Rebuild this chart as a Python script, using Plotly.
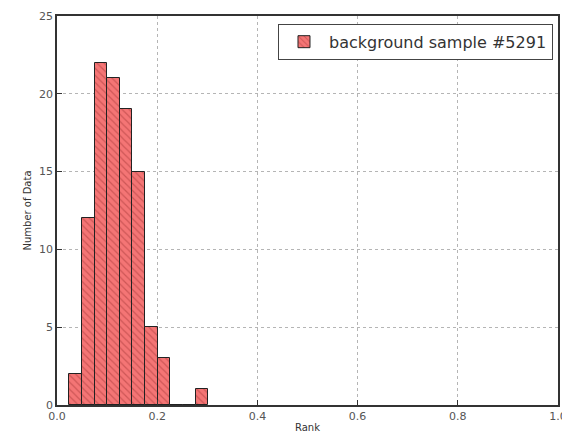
import plotly.graph_objects as go

# Histogram data
bin_start = 0.0245
bin_width = 0.0252
counts = [2, 12, 22, 21, 19, 15, 5, 3, 0, 0, 1]
series_name = "background sample #5291"
x_ticks = [0.0, 0.2, 0.4, 0.6, 0.8, 1.0]
x_ticklabels = ["0.0", "0.2", "0.4", "0.6", "0.8", "1.0"]
y_ticks = [0, 5, 10, 15, 20, 25]

centers = [bin_start + (i + 0.5) * bin_width for i in range(len(counts))]

fig = go.Figure()
fig.add_trace(go.Bar(
    x=centers, y=counts, width=bin_width,
    name=series_name,
    marker=dict(
        color="#f47575",
        line=dict(color="#222222", width=1),
        pattern=dict(shape="\\", fgcolor="#a83a3a", size=5, solidity=0.25),
    ),
    showlegend=True,
))

axis_common = dict(
    showline=True, linecolor="#333333", linewidth=1.5, mirror=True,
    ticks="inside", ticklen=5, tickcolor="#333333",
    showgrid=True, gridcolor="#b5b5b5", griddash="dot", gridwidth=1,
    zeroline=False,
    automargin=False,
    ticklabeloverflow="allow",
    tickfont=dict(family="DejaVu Sans", size=11, color="#555555"),
)

fig.update_layout(
    width=562, height=436,
    margin=dict(l=57, r=4, t=16, b=31),
    paper_bgcolor="white", plot_bgcolor="white",
    font=dict(family="DejaVu Sans", color="#333333"),
    xaxis=dict(range=[0, 1], tickvals=x_ticks, ticktext=x_ticklabels,
               title=dict(text="Rank", font=dict(size=10), standoff=2), **axis_common),
    yaxis=dict(range=[0, 25], tickvals=y_ticks,
               title=dict(text="Number of Data", font=dict(size=10), standoff=6), **axis_common),
    legend=dict(x=0.99, y=0.98, xanchor="right", yanchor="top",
                bordercolor="#444444", borderwidth=1, bgcolor="white",
                itemwidth=40,
                font=dict(size=16, color="#333333")),
    bargap=0,
)

fig.write_html("out.html")
